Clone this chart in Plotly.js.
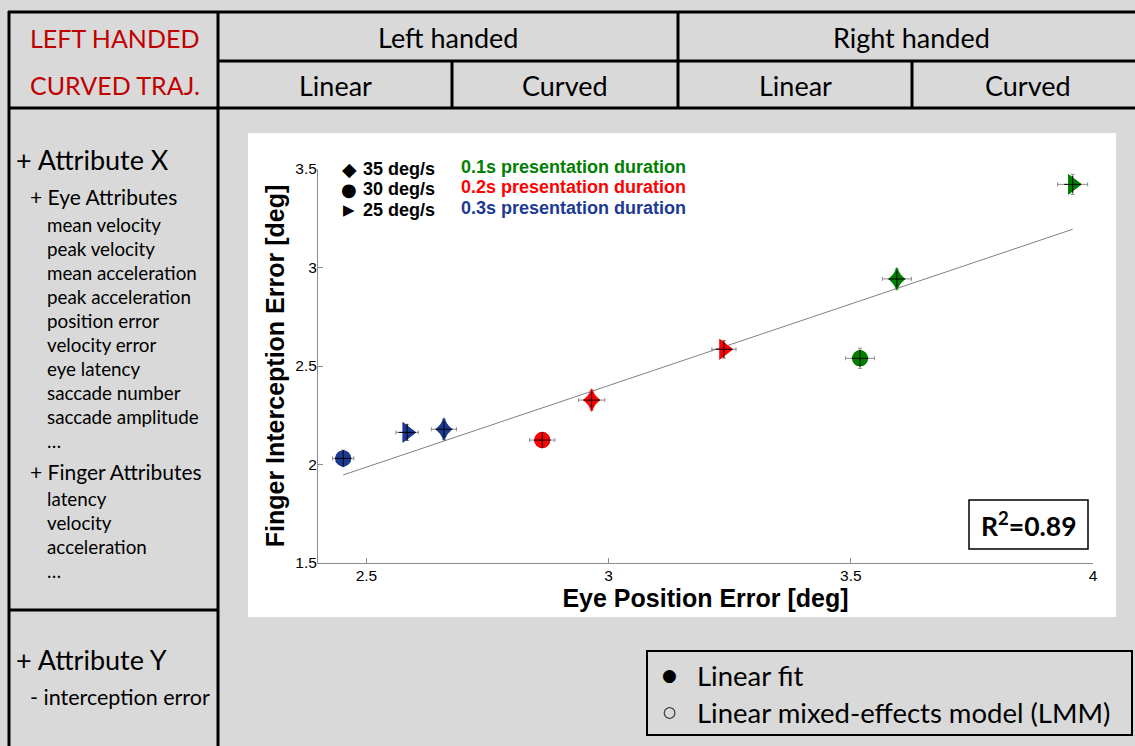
<!DOCTYPE html>
<html><head><meta charset="utf-8">
<script src="https://cdn.plot.ly/plotly-3.0.1.min.js"></script>
<style>html,body{margin:0;padding:0;background:#d9d9d9;overflow:hidden}#chart{width:1135px;height:746px}</style>
</head><body><div id="chart"></div>
<script>
// ---------- data ----------
const speedLabels = ['35 deg/s', '30 deg/s', '25 deg/s'];
const durationLabels = ['0.1s presentation duration', '0.2s presentation duration', '0.3s presentation duration'];
// order inside each group: 35, 30, 25 deg/s
const eyeErr01 = [3.595, 3.519, 3.958];
const fingerErr01 = [2.942, 2.539, 3.422];
const eyeSd01 = [0.030, 0.030, 0.031];
const fingerSd01 = [0.051, 0.051, 0.051];
const eyeErr02 = [2.965, 2.863, 3.238];
const fingerErr02 = [2.327, 2.124, 2.585];
const eyeSd02 = [0.027, 0.026, 0.025];
const fingerSd02 = [0.051, 0.037, 0.045];
const eyeErr03 = [2.660, 2.452, 2.584];
const fingerErr03 = [2.179, 2.031, 2.163];
const eyeSd03 = [0.026, 0.022, 0.023];
const fingerSd03 = [0.051, 0.042, 0.041];
const fitX = [2.452, 3.958];
const fitY = [1.947, 3.194];
const r2Label = 'R<sup>2</sup>=0.89';
const xTicks = [2.5, 3, 3.5, 4];
const yTicks = [1.5, 2, 2.5, 3, 3.5];
const xTitle = 'Eye Position Error [deg]';
const yTitle = 'Finger Interception Error [deg]';
const cornerLabel = ['LEFT HANDED', 'CURVED TRAJ.'];
const handLabels = ['Left handed', 'Right handed'];
const trajLabels = ['Linear', 'Curved', 'Linear', 'Curved'];
const attrX = '+ Attribute X';
const eyeHead = '+ Eye Attributes';
const eyeAttrs = ['mean velocity', 'peak velocity', 'mean acceleration', 'peak acceleration', 'position error', 'velocity error', 'eye latency', 'saccade number', 'saccade amplitude', '…'];
const fingerHead = '+ Finger Attributes';
const fingerAttrs = ['latency', 'velocity', 'acceleration', '…'];
const attrY = '+ Attribute Y';
const attrYItems = ['- interception error'];
const modelLabels = ['Linear fit', 'Linear mixed-effects model (LMM)'];

// ---------- styles ----------
const GREEN = '#008000', RED = '#ff0000', BLUE = '#1c3a92';
const groupColors = [GREEN, RED, BLUE];
const symbolsA = ['diamond-tall', 'circle', 'triangle-right'];
const sizesA = [17, 16, 18];
const symbolsB = ['diamond', 'circle', 'triangle-right'];
const sizesB = [13, 16, 18];
const legendGlyphs = ['◆', '●', '▶'];
const glyphSizes = [19, 18, 15];
const CAL = 'Lato, Carlito, "Open Sans", sans-serif';
const ARIAL = '"Liberation Sans", Arial, sans-serif';

// pixel -> paper helpers
const L = 318, R = 1093, T = 169, B = 563;
const px = x => (x - L) / (R - L);
const py = y => (B - y) / (B - T);

const groups = [
  [eyeErr01, fingerErr01, eyeSd01, fingerSd01],
  [eyeErr02, fingerErr02, eyeSd02, fingerSd02],
  [eyeErr03, fingerErr03, eyeSd03, fingerSd03]
];

const traces = [];
traces.push({
  x: fitX, y: fitY, type: 'scatter', mode: 'lines',
  line: {color: '#808080', width: 1}, hoverinfo: 'skip', showlegend: false
});
groups.forEach((g, i) => {
  traces.push({
    x: g[0], y: g[1], type: 'scatter', mode: 'markers', name: durationLabels[i],
    text: speedLabels, showlegend: false,
    marker: {color: groupColors[i], symbol: symbolsA, size: sizesA, opacity: 1, line: {width: 0}},
    error_x: {type: 'data', array: g[2], visible: true, color: '#8a8a8a', thickness: 1, width: 2},
    error_y: {type: 'data', array: g[3], visible: true, color: '#8a8a8a', thickness: 1, width: 2}
  });
  traces.push({
    x: g[0], y: g[1], type: 'scatter', mode: 'markers', showlegend: false, hoverinfo: 'skip',
    marker: {color: groupColors[i], symbol: symbolsB, size: sizesB, opacity: 1, line: {width: 0}}
  });
});
groups.forEach((g, i) => {
  traces.push({
    x: g[0], y: g[1], type: 'scatter', mode: 'markers', showlegend: false, hoverinfo: 'skip',
    marker: {symbol: 'cross-thin-open', size: 12, color: '#000', opacity: 1, line: {color: '#000', width: 1}}
  });
});

const shapes = [];
const ann = [];
// white figure panel
shapes.push({type: 'rect', xref: 'paper', yref: 'paper', layer: 'below',
  x0: px(248), x1: px(1116), y0: py(617), y1: py(133), fillcolor: '#ffffff', line: {width: 0}});
// table lines
function hline(y, x0, x1, w) { shapes.push({type: 'line', xref: 'paper', yref: 'paper', x0: px(x0), x1: px(x1), y0: py(y), y1: py(y), line: {color: '#000', width: w || 3}}); }
function vline(x, y0, y1, w) { shapes.push({type: 'line', xref: 'paper', yref: 'paper', x0: px(x), x1: px(x), y0: py(y0), y1: py(y1), line: {color: '#000', width: w || 3}}); }
hline(12, 8, 1140); hline(61, 218, 1140); hline(108, 8, 1140); hline(610, 8, 218);
vline(9, 11, 750); vline(218, 11, 750); vline(678, 11, 108); vline(452, 61, 108); vline(912, 61, 108);
// R2 box
shapes.push({type: 'rect', xref: 'paper', yref: 'paper', x0: px(969), x1: px(1088), y0: py(549), y1: py(500),
  fillcolor: '#fff', line: {color: '#000', width: 1.5}});
// model box
shapes.push({type: 'rect', xref: 'paper', yref: 'paper', x0: px(647), x1: px(1132), y0: py(735), y1: py(651),
  line: {color: '#000', width: 2}});

function text(t, x, y, o) {
  o = o || {};
  ann.push({text: t, xref: 'paper', yref: 'paper', x: px(x), y: py(y), showarrow: false,
    xanchor: o.xa || 'center', yanchor: 'middle', borderpad: 0,
    font: {family: o.family || CAL, size: o.size || 24, color: o.color || '#000', weight: o.weight || 'normal'}});
}
// header
text(cornerLabel[0], 115, 38, {color: '#c00000', size: 25});
text(cornerLabel[1], 115, 85, {color: '#c00000', size: 25});
text(handLabels[0], 448, 37, {size: 27});
text(handLabels[1], 911, 37, {size: 27});
[335, 565, 795, 1028].forEach((x, i) => text(trajLabels[i], x, 85, {size: 27}));
// left column
text(attrX, 15, 159, {xa: 'left', size: 27});
text(eyeHead, 29, 196, {xa: 'left', size: 21});
eyeAttrs.forEach((t, i) => text(t, 46, 224 + i * 24, {xa: 'left', size: 18.8}));
text(fingerHead, 29, 471, {xa: 'left', size: 21});
fingerAttrs.forEach((t, i) => text(t, 46, 498 + i * 24.3, {xa: 'left', size: 18.8}));
text(attrY, 15, 659, {xa: 'left', size: 27});
attrYItems.forEach((t, i) => text(t, 29, 697, {xa: 'left', size: 21.5}));
// model box
text('●', 669, 675, {size: 17, family: 'DejaVu Sans'});
text(modelLabels[0], 696, 675, {xa: 'left', size: 27.5});
text('○', 669, 712, {size: 15, family: 'DejaVu Sans'});
text(modelLabels[1], 696, 712, {xa: 'left', size: 27.5});
// in-plot legend
[169, 189, 210].forEach((y, i) => {
  text(legendGlyphs[i], 349, y, {family: 'DejaVu Sans', size: glyphSizes[i]});
  text(speedLabels[i], 362, y, {xa: 'left', family: ARIAL, size: 18, weight: 'bold'});
  text(durationLabels[i], 460, y - 2, {xa: 'left', family: ARIAL, size: 18, weight: 'bold', color: groupColors[i]});
});
// R2
text(r2Label, 1029, 524, {size: 26.5, weight: 'bold'});

const axisCommon = {
  showgrid: false, zeroline: false, showline: true, linecolor: '#8c8c8c', linewidth: 1,
  ticks: 'inside', ticklen: 5, tickcolor: '#8c8c8c', tickwidth: 1,
  tickfont: {family: ARIAL, size: 15.5, color: '#000'}, mirror: false, fixedrange: true
};
const layout = {
  width: 1135, height: 746,
  margin: {l: L, r: 1135 - R, t: T, b: 746 - B, pad: 0},
  paper_bgcolor: '#d9d9d9', plot_bgcolor: '#ffffff',
  showlegend: false,
  xaxis: Object.assign({}, axisCommon, {range: [2.4, 4], tickvals: xTicks, ticktext: xTicks.map(String),
    ticklabelstandoff: -2,
    title: {text: xTitle, font: {family: ARIAL, size: 25, color: '#000', weight: 'bold'}, standoff: 0}}),
  yaxis: Object.assign({}, axisCommon, {range: [1.5, 3.5], tickvals: yTicks, ticktext: yTicks.map(String),
    ticklabelstandoff: -3,
    title: {text: yTitle, font: {family: ARIAL, size: 25, color: '#000', weight: 'bold'}, standoff: 3}}),
  shapes: shapes, annotations: ann
};
Plotly.newPlot('chart', traces, layout, {displayModeBar: false, staticPlot: true});
</script></body></html>
